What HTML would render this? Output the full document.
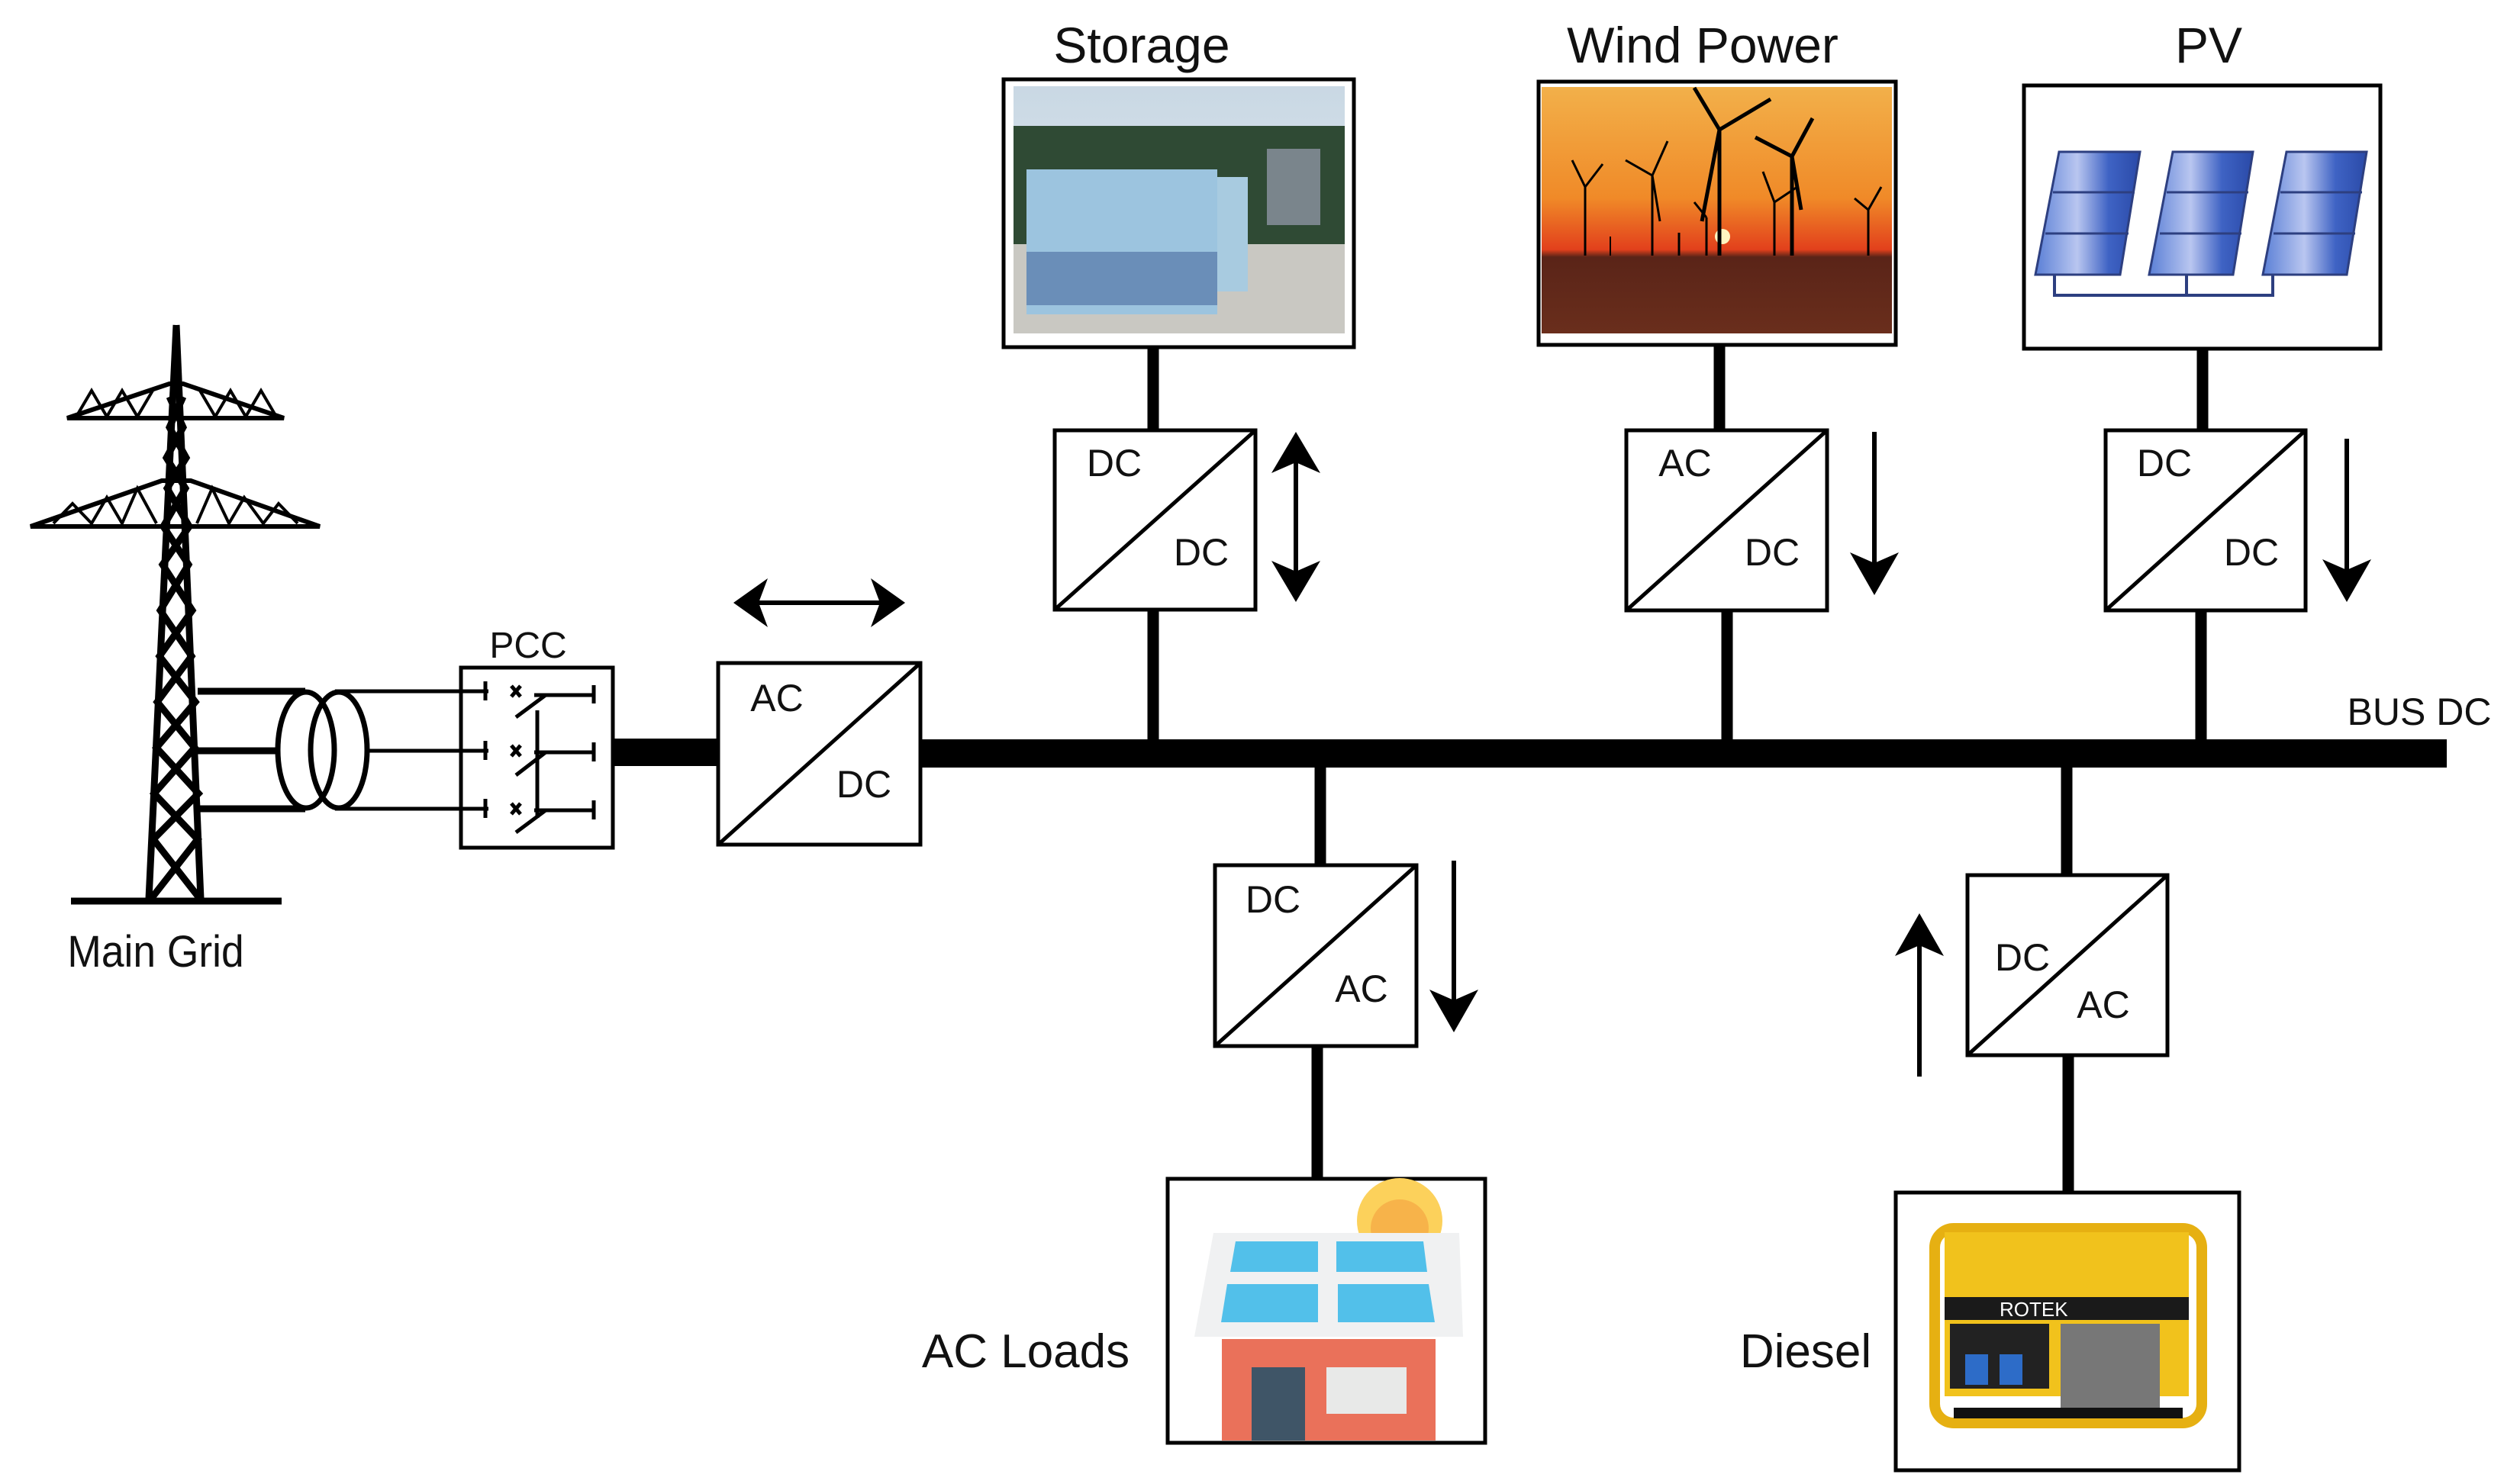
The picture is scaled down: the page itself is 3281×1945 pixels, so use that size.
<!DOCTYPE html>
<html><head><meta charset="utf-8"><style>
html,body{margin:0;padding:0;background:#fff;}
svg{display:block;}
text{font-family:"Liberation Sans",sans-serif;fill:#111;}
</style></head><body>
<svg width="3281" height="1945" viewBox="0 0 3281 1945" xmlns="http://www.w3.org/2000/svg">
<defs>
<linearGradient id="sky" x1="0" y1="0" x2="0" y2="1"><stop offset="0" stop-color="#c9d8e4"/><stop offset="1" stop-color="#e6ecef"/></linearGradient>
<linearGradient id="sunset" x1="0" y1="0" x2="0" y2="1"><stop offset="0" stop-color="#f2b04a"/><stop offset="0.45" stop-color="#f08a28"/><stop offset="0.66" stop-color="#e2401c"/><stop offset="0.69" stop-color="#5a2418"/><stop offset="1" stop-color="#6a2e1c"/></linearGradient>
<linearGradient id="pan" x1="0" y1="0" x2="1" y2="0"><stop offset="0" stop-color="#5a7fd6"/><stop offset="0.4" stop-color="#b9c6f0"/><stop offset="0.7" stop-color="#3f63c4"/><stop offset="1" stop-color="#2a4aa8"/></linearGradient>
</defs>

<!-- Tower -->
<g stroke="#000" fill="none" stroke-width="9">
<line x1="231" y1="426" x2="195" y2="1178"/>
<line x1="231" y1="426" x2="263" y2="1178"/>
<path d="M222,520 L240,560 L218,600 L243,640 L214,690 L247,740 L210,800 L251,860 L206,920 L255,980 L202,1040 L259,1100 L198,1178"/>
<path d="M240,520 L222,560 L244,600 L219,640 L248,690 L213,740 L252,800 L209,860 L256,920 L205,980 L260,1040 L201,1100 L262,1178"/>
<line x1="93" y1="1181" x2="369" y2="1181" stroke-width="9"/>
<path d="M88,548 L372,548 L240,503 L222,503 Z" stroke-width="6"/>
<path d="M100,546 L120,512 L140,546 L160,512 L180,546 L200,512 M262,512 L282,546 L302,512 L322,546 L342,512 L362,546" stroke-width="4"/>
<path d="M40,690 L419,690 L250,630 L212,630 Z" stroke-width="6"/>
<path d="M70,686 L95,660 L120,686 L140,652 L160,686 L180,640 L205,686 M258,686 L278,640 L300,686 L320,652 L345,686 L365,660 L390,686" stroke-width="4"/>
</g>
<text x="204" y="1267" font-size="58" text-anchor="middle" transform="translate(204 0) scale(0.92 1) translate(-204 0)">Main Grid</text>

<!-- lines & transformer -->
<g stroke="#000" fill="none">
<line x1="259" y1="906" x2="400" y2="906" stroke-width="9"/>
<line x1="259" y1="984" x2="363" y2="984" stroke-width="9"/>
<line x1="259" y1="1060" x2="400" y2="1060" stroke-width="9"/>
<ellipse cx="401" cy="983" rx="37" ry="76" stroke-width="7"/>
<ellipse cx="444" cy="983" rx="37" ry="76" stroke-width="7"/>
<line x1="439" y1="906" x2="640" y2="906" stroke-width="5"/>
<line x1="481" y1="984" x2="640" y2="984" stroke-width="5"/>
<line x1="439" y1="1060" x2="640" y2="1060" stroke-width="5"/>
<rect x="604" y="875" width="199" height="236" stroke-width="5"/>
<g stroke-width="5">
<line x1="636" y1="893" x2="636" y2="918"/><line x1="636" y1="971" x2="636" y2="996"/><line x1="636" y1="1047" x2="636" y2="1072"/>
<line x1="700" y1="911" x2="778" y2="911"/><line x1="700" y1="986" x2="778" y2="986"/><line x1="700" y1="1062" x2="778" y2="1062"/>
<line x1="778" y1="898" x2="778" y2="922"/><line x1="778" y1="973" x2="778" y2="998"/><line x1="778" y1="1049" x2="778" y2="1074"/>
<line x1="676" y1="940" x2="715" y2="911"/><line x1="676" y1="1016" x2="715" y2="986"/><line x1="676" y1="1091" x2="715" y2="1062"/>
<line x1="704" y1="931" x2="704" y2="1072"/>
<path d="M670,899 L682,913 M682,899 L670,913 M670,977 L682,991 M682,977 L670,991 M670,1053 L682,1067 M682,1053 L670,1067"/>
</g>
</g>
<text x="692" y="862" font-size="48" text-anchor="middle">PCC</text>

<!-- bus & thick links -->
<rect x="801" y="968" width="142" height="36" fill="#000"/>
<rect x="1203" y="969" width="2003" height="37" fill="#000"/>
<text x="3170" y="950" font-size="50" text-anchor="middle">BUS DC</text>

<!-- main AC/DC -->
<g stroke="#000" stroke-width="5" fill="#fff">
<rect x="941" y="869" width="265" height="238"/>
<line x1="941" y1="1107" x2="1206" y2="869" fill="none"/>
</g>
<text x="1018" y="932" font-size="50" text-anchor="middle">AC</text>
<text x="1132" y="1045" font-size="50" text-anchor="middle">DC</text>
<line x1="990" y1="790" x2="1160" y2="790" stroke="#000" stroke-width="6"/>
<path d="M961,790 L1006,758 L994,790 L1006,822 Z" fill="#000"/>
<path d="M1186,790 L1141,758 L1153,790 L1141,822 Z" fill="#000"/>

<!-- connectors vertical -->
<g stroke="#000" stroke-width="15">
<line x1="1511" y1="449" x2="1511" y2="566"/><line x1="1511" y1="799" x2="1511" y2="972"/>
<line x1="2253" y1="452" x2="2253" y2="566"/><line x1="2263" y1="800" x2="2263" y2="972"/>
<line x1="2886" y1="457" x2="2886" y2="566"/><line x1="2884" y1="800" x2="2884" y2="972"/>
<line x1="1730" y1="1000" x2="1730" y2="1136"/><line x1="1726" y1="1371" x2="1726" y2="1548"/>
<line x1="2708" y1="1000" x2="2708" y2="1149"/><line x1="2710" y1="1383" x2="2710" y2="1568"/>
</g>

<!-- converters -->
<g stroke="#000" stroke-width="5" fill="#fff">
<rect x="1382" y="564" width="263" height="235"/><line x1="1382" y1="799" x2="1645" y2="564"/>
<rect x="2131" y="564" width="263" height="236"/><line x1="2131" y1="800" x2="2394" y2="564"/>
<rect x="2759" y="564" width="262" height="236"/><line x1="2759" y1="800" x2="3021" y2="564"/>
<rect x="1592" y="1134" width="264" height="237"/><line x1="1592" y1="1371" x2="1856" y2="1134"/>
<rect x="2578" y="1147" width="262" height="236"/><line x1="2578" y1="1383" x2="2840" y2="1147"/>
</g>
<g font-size="50" text-anchor="middle">
<text x="1460" y="624">DC</text><text x="1574" y="741">DC</text>
<text x="2208" y="624">AC</text><text x="2322" y="741">DC</text>
<text x="2836" y="624">DC</text><text x="2950" y="741">DC</text>
<text x="1668" y="1196">DC</text><text x="1784" y="1313">AC</text>
<text x="2650" y="1272">DC</text><text x="2756" y="1334">AC</text>
</g>

<!-- vertical arrows -->
<g stroke="#000" stroke-width="6">
<line x1="1698" y1="595" x2="1698" y2="760"/>
<line x1="2456" y1="566" x2="2456" y2="750"/>
<line x1="3075" y1="575" x2="3075" y2="760"/>
<line x1="1905" y1="1128" x2="1905" y2="1320"/>
<line x1="2515" y1="1230" x2="2515" y2="1411"/>
</g>
<g fill="#000">
<path d="M1698,566 L1666,620 L1698,606 L1730,620 Z"/>
<path d="M1698,789 L1666,735 L1698,749 L1730,735 Z"/>
<path d="M2456,780 L2424,724 L2456,738 L2488,724 Z"/>
<path d="M3075,789 L3043,733 L3075,747 L3107,733 Z"/>
<path d="M1905,1353 L1873,1297 L1905,1311 L1937,1297 Z"/>
<path d="M2515,1197 L2483,1253 L2515,1239 L2547,1253 Z"/>
</g>

<!-- titles -->
<g font-size="66" text-anchor="middle">
<text x="1496" y="82">Storage</text>
<text x="2231" y="82">Wind Power</text>
<text x="2894" y="82">PV</text>
</g>
<text x="1344" y="1792" font-size="62" text-anchor="middle">AC Loads</text>
<text x="2366" y="1792" font-size="62" text-anchor="middle">Diesel</text>

<!-- Storage box -->
<rect x="1315" y="104" width="459" height="351" fill="#fff" stroke="#000" stroke-width="5"/>
<rect x="1328" y="113" width="434" height="324" fill="url(#sky)"/>
<rect x="1328" y="165" width="434" height="160" fill="#2f4a34"/>
<rect x="1328" y="320" width="434" height="117" fill="#c9c8c2"/>
<rect x="1345" y="222" width="250" height="190" fill="#9cc4df"/>
<rect x="1345" y="330" width="250" height="70" fill="#6a8eb8"/>
<rect x="1595" y="232" width="40" height="150" fill="#a8cbe0"/>
<rect x="1660" y="195" width="70" height="100" fill="#7a858c"/>

<!-- Wind box -->
<rect x="2016" y="107" width="468" height="345" fill="#fff" stroke="#000" stroke-width="5"/>
<rect x="2020" y="114" width="459" height="323" fill="url(#sunset)"/>
<circle cx="2257" cy="310" r="10" fill="#fff6c0"/>
<g stroke="#000" stroke-width="5">
<line x1="2253" y1="170" x2="2253" y2="335"/><line x1="2253" y1="170" x2="2220" y2="115"/><line x1="2253" y1="170" x2="2320" y2="130"/><line x1="2253" y1="170" x2="2230" y2="290"/>
<line x1="2348" y1="205" x2="2348" y2="335"/><line x1="2348" y1="205" x2="2375" y2="155"/><line x1="2348" y1="205" x2="2300" y2="180"/><line x1="2348" y1="205" x2="2360" y2="275"/>
<line x1="2165" y1="230" x2="2165" y2="335" stroke-width="3"/><line x1="2165" y1="230" x2="2185" y2="185" stroke-width="3"/><line x1="2165" y1="230" x2="2130" y2="210" stroke-width="3"/><line x1="2165" y1="230" x2="2175" y2="290" stroke-width="3"/>
<line x1="2077" y1="245" x2="2077" y2="335" stroke-width="3"/><line x1="2077" y1="245" x2="2100" y2="215" stroke-width="3"/><line x1="2077" y1="245" x2="2060" y2="210" stroke-width="3"/>
<line x1="2325" y1="265" x2="2325" y2="335" stroke-width="3"/><line x1="2325" y1="265" x2="2355" y2="245" stroke-width="3"/><line x1="2325" y1="265" x2="2310" y2="225" stroke-width="3"/>
<line x1="2448" y1="275" x2="2448" y2="335" stroke-width="3"/><line x1="2448" y1="275" x2="2465" y2="245" stroke-width="3"/><line x1="2448" y1="275" x2="2430" y2="260" stroke-width="3"/>
<line x1="2236" y1="285" x2="2236" y2="335" stroke-width="3"/><line x1="2236" y1="285" x2="2220" y2="265" stroke-width="3"/>
<line x1="2200" y1="305" x2="2200" y2="335" stroke-width="3"/><line x1="2110" y1="310" x2="2110" y2="335" stroke-width="2"/>
</g>

<!-- PV box -->
<rect x="2652" y="112" width="467" height="345" fill="#fff" stroke="#000" stroke-width="5"/>
<g stroke="#2d3f80" stroke-width="3">
<polygon points="2698,199 2804,199 2778,360 2667,360" fill="url(#pan)"/>
<polygon points="2847,199 2952,199 2926,360 2816,360" fill="url(#pan)"/>
<polygon points="2996,199 3101,199 3075,360 2965,360" fill="url(#pan)"/>
<path d="M2690,252 L2797,252 M2680,306 L2789,306 M2839,252 L2946,252 M2830,306 L2937,306 M2988,252 L3095,252 M2979,306 L3086,306" fill="none"/>
<path d="M2692,360 L2692,387 L2978,387 L2978,360 M2865,360 L2865,387" fill="none" stroke-width="4"/>
</g>

<!-- AC Loads box -->
<rect x="1530" y="1545" width="416" height="346" fill="#fff" stroke="#000" stroke-width="5"/>
<circle cx="1834" cy="1600" r="56" fill="#fcd15b"/>
<circle cx="1834" cy="1610" r="38" fill="#f7b34a"/>
<polygon points="1590,1616 1912,1616 1917,1752 1565,1752" fill="#f0f1f2"/>
<polygon points="1619,1627 1727,1627 1727,1667 1612,1667" fill="#52c0ea"/>
<polygon points="1751,1627 1865,1627 1870,1667 1751,1667" fill="#52c0ea"/>
<polygon points="1608,1683 1727,1683 1727,1733 1600,1733" fill="#52c0ea"/>
<polygon points="1753,1683 1872,1683 1880,1733 1753,1733" fill="#52c0ea"/>
<rect x="1601" y="1755" width="280" height="133" fill="#ea715a"/>
<rect x="1640" y="1792" width="70" height="96" fill="#3f5567"/>
<rect x="1738" y="1792" width="105" height="61" fill="#e8e9e8"/>

<!-- Diesel box -->
<rect x="2484" y="1563" width="450" height="364" fill="#fff" stroke="#000" stroke-width="5"/>
<rect x="2535" y="1610" width="350" height="255" rx="25" fill="none" stroke="#e6b012" stroke-width="14"/>
<rect x="2548" y="1615" width="320" height="215" fill="#f1c21c"/>
<rect x="2548" y="1700" width="320" height="30" fill="#1a1a1a"/>
<text x="2620" y="1725" font-size="26" style="fill:#fff">ROTEK</text>
<rect x="2555" y="1735" width="130" height="85" fill="#222"/>
<rect x="2700" y="1735" width="130" height="110" fill="#777"/>
<rect x="2575" y="1775" width="30" height="40" fill="#2d6cc8"/>
<rect x="2620" y="1775" width="30" height="40" fill="#2d6cc8"/>
<rect x="2560" y="1845" width="300" height="14" fill="#111"/>
</svg>
</body></html>
